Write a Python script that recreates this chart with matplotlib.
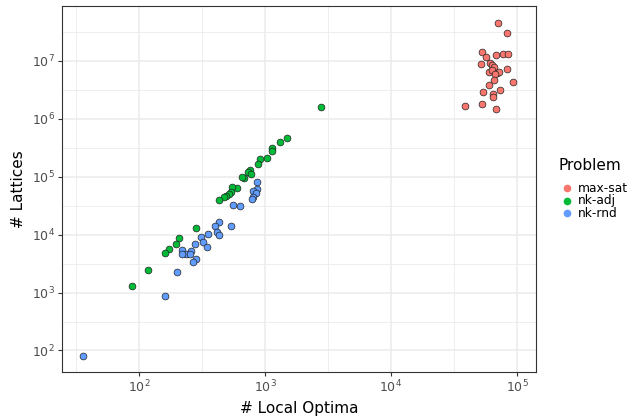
import numpy as np
import matplotlib
matplotlib.use("Agg")
import matplotlib.pyplot as plt
from matplotlib.lines import Line2D
from matplotlib.ticker import FixedLocator, NullFormatter

# max-sat instances
maxsat_optima = [70600, 83400, 52700, 56500, 68100, 76900, 84300, 52100, 61100,
                 63700, 66100, 59600, 63000, 69800, 72400, 67500, 82800, 65600,
                 60300, 92900, 73300, 53700, 64100, 64100, 38900, 52500, 68100]
maxsat_lattices = [44.8e6, 30.1e6, 14.5e6, 11.6e6, 12.7e6, 13.1e6, 13.4e6, 8.87e6, 9.35e6,
                   8.53e6, 7.78e6, 6.53e6, 7.00e6, 6.28e6, 6.53e6, 5.89e6, 7.18e6, 4.70e6,
                   3.90e6, 4.40e6, 3.12e6, 2.92e6, 2.69e6, 2.42e6, 1.67e6, 1.81e6, 1.50e6]

# nk-adj instances
adj_optima = [2770, 1490, 1315, 1130, 1130, 1030, 918, 875, 767, 733, 771, 687, 661,
              597, 550, 540, 518, 493, 471, 434, 283, 207, 197, 173, 162, 119, 88]
adj_lattices = [1.63e6, 462000, 391000, 308000, 279000, 209000, 200000, 163000, 129000,
                119000, 110000, 93500, 98000, 64600, 66700, 53600, 50500, 45700, 44300,
                39700, 13200, 8870, 6900, 5730, 4890, 2450, 1315]

# nk-rnd instances
rnd_optima = [857, 859, 798, 843, 807, 789, 560, 628, 430, 403, 540, 414, 428, 355,
              309, 321, 348, 277, 258, 219, 235, 221, 256, 281, 267, 201, 161, 36]
rnd_lattices = [82200, 62200, 57500, 51900, 44300, 40800, 32200, 30900, 16700, 14100,
                14100, 11300, 9680, 10400, 9230, 7330, 6210, 7000, 5330, 5400, 4600,
                4550, 4650, 3730, 3350, 2300, 883, 80]

problems = ["max-sat", "nk-adj", "nk-rnd"]
colors = ["#F8766D", "#00BA38", "#619CFF"]

W, H = 629, 418
fig = plt.figure(figsize=(W / 100, H / 100), dpi=100)
ax = fig.add_axes([62 / W, 1 - 372 / H, (536 - 62) / W, (372 - 6) / H])

series = [(maxsat_optima, maxsat_lattices), (adj_optima, adj_lattices), (rnd_optima, rnd_lattices)]
for (xs, ys), name, col in zip(series, problems, colors):
    ax.scatter(xs, ys, s=24, c=col, edgecolors="#222222", linewidths=0.5, label=name, zorder=3)

ax.set_xscale("log")
ax.set_yscale("log")
ax.set_xlim(24.5, 141600)
ax.set_ylim(42.5, 8.9e7)

ax.xaxis.set_major_locator(FixedLocator([1e2, 1e3, 1e4, 1e5]))
ax.yaxis.set_major_locator(FixedLocator([1e2, 1e3, 1e4, 1e5, 1e6, 1e7]))
ax.xaxis.set_minor_locator(FixedLocator([10 ** (k + 0.5) for k in range(1, 6)]))
ax.yaxis.set_minor_locator(FixedLocator([10 ** (k + 0.5) for k in range(1, 8)]))
ax.xaxis.set_minor_formatter(NullFormatter())
ax.yaxis.set_minor_formatter(NullFormatter())
ax.set_xticklabels([r"$10^{%d}$" % k for k in range(2, 6)])
ax.set_yticklabels([r"$10^{%d}$" % k for k in range(2, 8)])

ax.grid(True, which="major", color="#EBEBEB", linewidth=1.1, zorder=0)
ax.grid(True, which="minor", color="#EBEBEB", linewidth=0.6, zorder=0)
ax.set_axisbelow(True)
ax.tick_params(which="major", length=3, width=0.8, color="#333333",
               labelsize=9, labelcolor="#4D4D4D", pad=2)
ax.tick_params(which="minor", length=0)
for sp in ax.spines.values():
    sp.set_color("#333333")
    sp.set_linewidth(0.8)

ax.set_xlabel("# Local Optima", fontsize=11, labelpad=4)
ax.set_ylabel("# Lattices", fontsize=11, labelpad=4)

# legend drawn by hand, placed like the ggplot guide
fig.text(559 / W, 1 - 165 / H, "Problem", fontsize=11, va="center", ha="left")
for i, (name, col) in enumerate(zip(problems, colors)):
    yy = 1 - (188 + 12.5 * i) / H
    fig.add_artist(Line2D([567 / W], [yy], marker="o", markersize=4.5, color=col,
                          markeredgecolor=col, linestyle="none", transform=fig.transFigure))
    fig.text(578 / W, yy, name, fontsize=8.8, va="center", ha="left")

fig.savefig("out.png", dpi=100)
